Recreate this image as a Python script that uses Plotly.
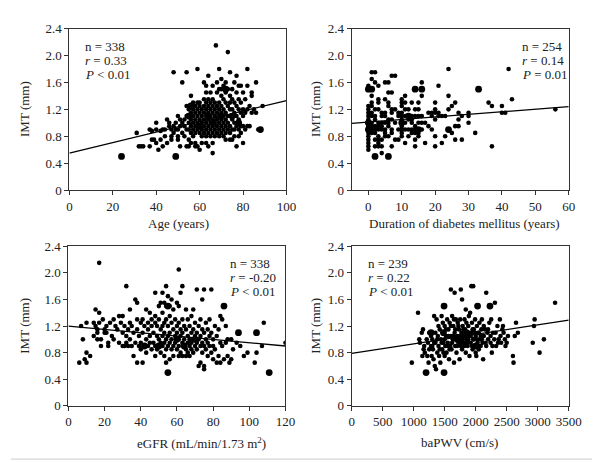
import plotly.graph_objects as go

# ---------------- data ----------------
# Panel 1: Age (years) vs IMT (mm)
age_imt = [(31,0.85),(32,0.65),(33,0.65),(34,0.65),(37,0.65),(37,0.9),(38,0.88),(38,0.75),(39,0.75),
 (40,1.0),(40,0.7),(40,0.9),(41,0.6),(42,0.88),(42,0.75),(43,0.9),(43,0.65),(44,0.9),(44,0.8),(45,0.7),
 (45,1.05),(46,0.95),(46,1.0),(47,0.8),(47,0.75),(47,0.9),(48,1.75),(48,0.95),(48,0.85),(49,1.0),(49,0.9),
 (50,1.1),(50,0.9),(50,0.8),(50,0.75),(51,0.65),(51,1.05),(51,0.95),(52,1.6),(52,0.85),(52,1.0),(53,1.05),
 (53,0.95),(53,0.8),(54,1.75),(54,1.25),(54,1.1),(54,0.9),(54,0.65),(55,1.2),(55,1.1),(55,1.0),(55,0.9),
 (55,0.75),(55,0.65),(56,1.4),(56,1.25),(56,1.15),(56,1.05),(56,0.95),(56,0.85),(56,0.7),(57,1.3),(57,1.2),
 (57,1.1),(57,1.0),(57,0.9),(57,0.8),(58,1.25),(58,1.15),(58,1.05),(58,0.95),(58,0.85),(58,0.7),(58,0.65),
 (59,1.8),(59,1.3),(59,1.2),(59,1.1),(59,1.0),(59,0.9),(59,0.65),(60,1.25),(60,1.15),(60,1.05),(60,0.95),
 (60,0.85),(60,0.6),(60,1.3),(61,1.2),(61,1.1),(61,1.0),(61,0.9),(61,0.8),(61,0.7),(62,1.6),(62,1.35),
 (62,1.25),(62,1.15),(62,1.05),(62,0.95),(62,0.85),(63,1.55),(63,1.45),(63,1.3),(63,1.2),(63,1.1),(63,1.0),
 (63,0.9),(63,0.8),(63,0.7),(64,1.7),(64,1.35),(64,1.25),(64,1.15),(64,1.05),(64,0.95),(64,0.85),(64,0.65),
 (65,1.45),(65,1.3),(65,1.2),(65,1.1),(65,1.0),(65,0.9),(65,0.8),(66,0.55),(66,1.55),(66,1.35),(66,1.25),
 (66,1.15),(66,1.05),(66,0.95),(66,0.85),(66,0.7),(67,1.3),(67,1.2),(67,1.1),(67,1.0),(67,0.9),(67,0.8),
 (67.5,2.15),(68,1.6),(68,1.45),(68,1.25),(68,1.15),(68,1.05),(68,0.95),(68,0.85),(69,1.8),(69,1.5),
 (69,1.3),(69,1.2),(69,1.1),(69,1.0),(69,0.9),(69,0.8),(70,1.65),(70,1.5),(70,1.4),(70,1.25),(70,1.15),
 (70,1.05),(70,0.95),(70,0.85),(71,1.55),(71,1.35),(71,1.2),(71,1.1),(71,1.0),(71,0.9),(71,0.8),(72,1.6),
 (72,1.45),(72,1.3),(72,1.15),(72,1.05),(72,0.95),(72,0.85),(72,0.75),(73,2.05),(73,1.5),(73,1.25),(73,1.1),
 (73,1.0),(73,0.9),(74,1.75),(74,1.4),(74,1.3),(74,1.2),(74,1.1),(74,0.95),(74,0.85),(74,0.75),(75,1.5),
 (75,1.35),(75,1.2),(75,1.05),(75,0.9),(75,0.75),(76,1.6),(76,1.3),(76,1.15),(76,1.0),(76,0.9),(76,0.8),
 (77,1.7),(77,1.45),(77,1.25),(77,1.1),(77,0.95),(77,0.65),(78,1.55),(78,1.35),(78,1.2),(78,1.05),(78,0.9),
 (78,0.8),(79,1.55),(79,1.3),(79,1.15),(79,0.95),(79,0.85),(80,1.45),(80,1.2),(80,1.1),(80,0.95),(80,0.7),
 (81,1.35),(81,1.15),(81,0.9),(82,1.8),(82,1.55),(82,1.2),(82,0.95),(83,1.25),(83,0.95),(84,1.45),(84,1.4),
 (84,1.15),(85,1.2),(86,1.6),(86,1.15),(87,0.9),(89,1.25)]
age_imt_big = [(24,0.5),(49,0.5),(88,0.9),(55,1.1),(56,1.25),(60,0.95),(64,1.1),(66,1.0),(70,1.1),
 (72,1.5),(75,1.1),(78,1.0)]
age_fit_x = [0, 100]
age_fit_y = [0.55, 1.33]

# Panel 2: Duration of diabetes mellitus (years) vs IMT (mm)
dur_imt = [(0,0.6),(0,0.65),(0,0.7),(0,0.75),(0,0.8),(0,0.85),(0,0.9),(0,0.95),(0,1.0),(0,1.05),(0,1.1),
 (0,1.15),(0,1.2),(0,1.25),(0,1.55),(1,1.75),(1,1.65),(1,1.4),(1,1.3),(1,1.25),(1,1.15),(1,1.1),(1,1.0),
 (1,0.9),(1,0.85),(1,0.95),(2,1.75),(2,1.6),(2,1.2),(2,1.1),(2,1.05),(2,0.95),(2,0.9),(2,0.85),(2,0.75),
 (2,0.65),(3,1.55),(3,1.35),(3,1.3),(3,1.2),(3,1.0),(3,0.9),(3,0.8),(3,0.75),(3,0.7),(3,0.65),(3,0.95),
 (4,1.15),(4,1.0),(4,0.95),(4,0.9),(4,0.75),(4,0.65),(4,0.55),(4,1.1),(5,1.6),(5,1.35),(5,1.15),(5,1.1),
 (5,1.0),(5,0.9),(5,0.85),(5,0.8),(6,1.6),(6,1.45),(6,1.3),(6,1.25),(6,1.05),(6,1.0),(6,0.95),(6,0.8),
 (7,1.7),(7,1.45),(7,1.2),(7,1.15),(7,1.05),(7,0.9),(7,0.85),(7,0.65),(8,1.7),(8,1.2),(8,1.0),(8,0.75),
 (9,1.15),(9,1.1),(9,0.9),(9,0.75),(10,1.35),(10,1.3),(10,1.25),(10,1.15),(10,1.1),(10,1.05),(10,0.95),
 (10,0.9),(10,0.85),(10,0.8),(11,1.4),(11,1.3),(11,1.2),(11,1.1),(11,1.0),(11,0.9),(11,0.7),(12,1.2),
 (12,1.1),(12,1.05),(12,0.9),(12,0.8),(13,1.3),(13,1.1),(13,1.05),(13,1.0),(13,0.9),(13,0.85),(14,1.2),
 (14,1.1),(14,0.95),(14,0.9),(14,0.85),(14,0.75),(14,0.65),(15,1.3),(15,1.2),(15,1.1),(15,1.0),(15,0.9),
 (15,0.85),(15,0.8),(16,1.6),(16,1.4),(16,1.1),(16,1.0),(16,0.9),(17,1.0),(17,0.7),(18,1.15),(18,0.95),
 (19,1.15),(19,1.1),(19,0.9),(20,1.3),(20,1.2),(20,1.15),(20,1.05),(20,0.8),(20,0.65),(21,1.55),(21,1.15),
 (21,1.1),(22,1.1),(22,0.7),(23,1.1),(23,0.8),(24,1.8),(24,1.4),(24,1.2),(25,1.25),(25,0.85),(26,1.3),
 (26,0.95),(26,0.75),(27,1.15),(27,1.05),(27,0.95),(28,1.1),(28,0.75),(30,1.15),(30,1.1),(30,1.0),
 (32,0.85),(36,1.3),(37,1.25),(37,0.65),(40,1.25),(40,1.15),(41,1.15),(42,1.8),(43,1.35),(56,1.2)]
dur_imt_big = [(2,0.5),(6,0.5),(0,1.5),(1,1.5),(14,1.5),(16,1.5),(24,0.9),(33,1.5),(0,0.9),(0,1.0),
 (10,1.0),(12,1.1),(15,0.9)]
dur_fit_x = [-5, 60]
dur_fit_y = [0.99, 1.24]

# Panel 3: eGFR (mL/min/1.73 m2) vs IMT (mm)
egfr_imt = [(6,0.65),(8,1.0),(7,1.2),(9,0.7),(10,0.8),(10,0.65),(10,1.25),(12,0.75),(14,1.25),(14,1.05),
 (15,1.45),(15,1.2),(16,1.15),(16,1.1),(16,1.0),(17,2.15),(17,1.4),(17,1.25),(18,1.0),(18,0.9),(19,1.3),
 (20,1.15),(20,1.1),(21,1.2),(21,1.1),(22,0.9),(22,0.95),(23,1.25),(24,1.05),(25,1.3),(25,1.0),(26,1.2),
 (27,1.15),(28,0.95),(28,1.35),(29,1.25),(30,1.35),(30,0.9),(30,1.1),(31,0.9),(31,1.2),(32,1.8),(32,1.05),
 (32,0.95),(33,1.15),(33,0.9),(34,1.45),(34,1.25),(34,1.0),(35,0.9),(35,1.2),(36,0.75),(36,1.1),(37,1.6),
 (37,0.95),(38,1.55),(38,1.3),(38,0.65),(38,1.15),(39,0.9),(39,1.05),(40,1.25),(40,0.95),(40,0.85),
 (41,1.3),(41,1.1),(41,0.65),(42,1.2),(42,0.9),(43,1.45),(43,1.0),(43,0.8),(44,1.25),(44,0.9),(44,1.15),
 (45,1.4),(45,1.05),(45,0.95),(46,1.3),(46,0.85),(46,1.2),(47,1.1),(47,0.95),(48,1.7),(48,1.35),(48,1.25),
 (48,0.9),(48,0.75),(49,1.2),(49,1.05),(49,0.85),(50,1.5),(50,1.3),(50,1.0),(50,0.9),(51,1.55),(51,1.15),
 (51,0.95),(51,0.8),(52,1.7),(52,1.4),(52,1.2),(52,1.05),(52,0.9),(53,1.55),(53,1.25),(53,1.1),(53,0.95),
 (53,0.75),(54,1.8),(54,1.5),(54,1.3),(54,1.0),(54,0.85),(54,0.65),(55,1.65),(55,1.5),(55,1.2),(55,1.05),
 (55,0.9),(56,1.5),(56,1.35),(56,1.1),(56,0.95),(56,0.7),(57,1.6),(57,1.25),(57,1.0),(57,0.85),(58,1.45),
 (58,1.15),(58,0.9),(58,0.75),(59,1.3),(59,1.05),(59,0.95),(60,1.55),(60,1.2),(60,1.1),(60,0.85),
 (61,2.05),(61,1.5),(61,1.25),(61,1.0),(61,0.9),(61,0.75),(62,1.7),(62,1.15),(62,1.05),(62,0.8),(63,1.8),
 (63,1.3),(63,1.1),(63,0.95),(63,0.75),(64,1.2),(64,1.0),(64,0.9),(65,1.45),(65,1.15),(65,0.85),(65,0.75),
 (66,1.3),(66,1.05),(66,0.95),(66,0.8),(67,1.2),(67,1.0),(67,0.9),(67,0.75),(68,1.35),(68,1.1),(68,0.95),
 (68,0.85),(69,1.45),(69,1.15),(69,1.0),(69,0.8),(70,1.25),(70,1.05),(70,0.9),(71,1.75),(71,1.1),(71,0.95),
 (71,0.85),(72,1.2),(72,1.0),(72,0.6),(73,1.3),(73,1.05),(73,0.9),(73,0.65),(74,1.6),(74,1.15),(74,0.95),
 (74,0.8),(75,1.75),(75,1.1),(75,0.9),(75,0.6),(75,0.55),(76,1.25),(76,1.0),(76,0.85),(77,1.15),(77,0.95),
 (77,0.75),(78,1.3),(78,1.05),(78,0.9),(79,1.75),(79,1.1),(79,0.8),(80,1.0),(80,0.9),(80,0.7),(81,1.2),
 (81,0.85),(82,1.05),(82,0.65),(83,1.15),(83,0.75),(84,1.35),(84,0.95),(84,0.65),(85,1.3),(85,0.9),
 (86,0.7),(87,1.2),(87,0.95),(88,1.0),(88,0.75),(89,0.65),(90,1.0),(90,0.7),(91,0.85),(93,0.95),(95,0.9),
 (97,0.75),(99,0.8),(103,0.65),(104,0.8),(107,0.9),(108,1.25),(120,0.95)]
egfr_imt_big = [(55,0.5),(111,0.5),(86,1.5),(94,1.1),(104,1.1),(55,1.5),(50,0.9),(64,0.9),(70,1.0),
 (42,0.9),(60,1.0)]
egfr_fit_x = [0, 120]
egfr_fit_y = [1.2, 0.9]

# Panel 4: baPWV (cm/s) vs IMT (mm)
pwv_imt = [(970,0.65),(1070,1.4),(1090,1.0),(1100,0.95),(1130,1.1),(1140,0.75),(1150,1.15),(1160,0.85),
 (1170,0.9),(1180,0.8),(1210,1.0),(1220,0.75),(1230,0.95),(1240,0.65),(1250,0.85),(1270,1.1),(1280,0.9),
 (1290,0.75),(1300,1.0),(1310,0.85),(1320,0.7),(1330,1.35),(1340,0.6),(1350,0.95),(1360,0.55),(1370,1.3),
 (1380,0.8),(1390,1.05),(1400,0.9),(1410,0.75),(1420,1.15),(1430,0.65),(1440,1.0),(1450,1.35),(1460,0.85),
 (1470,1.1),(1480,0.95),(1500,0.75),(1500,1.2),(1510,0.9),(1520,1.05),(1530,0.8),(1540,1.3),(1550,0.95),
 (1560,1.15),(1570,0.7),(1580,1.25),(1590,0.9),(1600,1.75),(1600,1.05),(1610,0.85),(1620,1.35),(1630,1.0),
 (1640,1.2),(1650,0.65),(1660,1.7),(1660,1.1),(1670,0.9),(1680,1.3),(1690,0.8),(1700,1.05),(1710,1.25),
 (1720,0.95),(1730,1.15),(1740,0.7),(1750,1.0),(1760,1.75),(1760,0.9),(1770,1.1),(1780,1.6),(1780,0.85),
 (1790,1.2),(1800,1.05),(1810,0.95),(1820,1.3),(1830,1.15),(1840,1.45),(1840,0.8),(1850,1.0),(1860,1.1),
 (1870,0.9),(1880,1.2),(1890,1.05),(1900,0.75),(1910,1.4),(1920,0.95),(1930,1.8),(1930,1.1),(1940,1.25),
 (1950,0.85),(1960,1.8),(1960,1.0),(1970,1.15),(1980,0.9),(1990,1.3),(2000,1.05),(2010,0.75),(2020,1.2),
 (2030,0.95),(2040,1.1),(2050,0.85),(2060,1.25),(2070,1.0),(2080,0.9),(2090,1.15),(2100,1.3),(2110,0.95),
 (2120,0.7),(2130,1.05),(2150,1.15),(2170,1.7),(2170,0.9),(2190,1.1),(2200,1.0),(2220,1.25),(2240,0.95),
 (2250,1.3),(2260,0.8),(2280,1.1),(2300,1.0),(2310,1.55),(2330,0.9),(2350,1.2),(2370,1.0),(2390,1.3),
 (2410,0.95),(2430,1.15),(2450,1.1),(2470,1.0),(2500,0.95),(2520,1.05),(2600,0.75),(2610,0.65),(2630,1.05),
 (2650,1.25),(2680,1.1),(2920,0.95),(2940,1.2),(2950,1.3),(3030,0.8),(3100,1.0),(3280,1.55),
 (1250,1.1),(1280,1.05),(1300,0.9),(1330,0.95),(1350,1.1),(1380,1.0),(1400,1.2),(1420,0.85),(1450,0.95),
 (1470,1.25),(1480,0.8),(1500,1.0),(1520,1.15),(1540,0.9),(1560,1.05),(1580,0.85),(1600,1.2),(1620,0.95),
 (1640,1.05),(1650,1.3),(1670,1.15),(1690,1.0),(1700,0.9),(1720,1.2),(1740,1.05),(1750,1.3),(1770,0.95),
 (1790,1.0),(1800,1.15),(1820,0.9),(1830,1.05),(1850,1.25),(1860,0.95),(1880,1.0),(1890,1.35),(1900,1.1),
 (1920,1.05),(1940,0.9),(1950,1.15),(1970,1.0),(1990,1.1),(2000,0.8),(2020,1.0),(2050,1.1),(2060,0.9),
 (2080,1.05),(2100,1.0),(2130,1.2),(2160,0.95),(2200,1.15),(2240,1.05),(2270,0.9),(2320,1.1),(2360,0.95),
 (2400,1.05),(2440,1.2),(2480,0.9)]
pwv_imt_big = [(1200,0.5),(1490,0.5),(1490,1.5),(2030,1.5),(2230,1.5),(1280,1.1),(1480,1.1),(1700,1.0),
 (1850,1.1),(2000,0.9)]
pwv_fit_x = [0, 3500]
pwv_fit_y = [0.79, 1.29]

y_tick_vals = [0, 0.4, 0.8, 1.2, 1.6, 2.0, 2.4]
y_tick_text = ["0", "0.4", "0.8", "1.2", "1.6", "2.0", "2.4"]

panels = [
    dict(pts=age_imt, big=age_imt_big, fx=age_fit_x, fy=age_fit_y, xr=[0, 100],
         xt=[0, 20, 40, 60, 80, 100], xlabel="Age (years)",
         stats=["n = 338", "<i>r</i> = 0.33", "<i>P</i> < 0.01"]),
    dict(pts=dur_imt, big=dur_imt_big, fx=dur_fit_x, fy=dur_fit_y, xr=[-5, 60],
         xt=[0, 10, 20, 30, 40, 50, 60], xlabel="Duration of diabetes mellitus (years)",
         stats=["n = 254", "<i>r</i> = 0.14", "<i>P</i> = 0.01"]),
    dict(pts=egfr_imt, big=egfr_imt_big, fx=egfr_fit_x, fy=egfr_fit_y, xr=[0, 120],
         xt=[0, 20, 40, 60, 80, 100, 120], xlabel="eGFR (mL/min/1.73 m<sup>2</sup>)",
         stats=["n = 338", "<i>r</i> = -0.20", "<i>P</i> < 0.01"]),
    dict(pts=pwv_imt, big=pwv_imt_big, fx=pwv_fit_x, fy=pwv_fit_y, xr=[0, 3500],
         xt=[0, 500, 1000, 1500, 2000, 2500, 3000, 3500], xlabel="baPWV (cm/s)",
         stats=["n = 239", "<i>r</i> = 0.22", "<i>P</i> < 0.01"]),
]

# ---------------- layout geometry (pixels) ----------------
W, H = 600, 462
FONT = "Liberation Serif"
# (x0, x1, y_bottom, y_top) in pixels
boxes = [(60, 283, 181, 14), (350, 573, 181, 14), (59, 282, 404, 239), (350, 573, 404, 239)]
stat_pos = [(74, 33), (523, 33), (223, 257), (365, 257)]
xlabel_pos = [(172, 215), (466, 215), (196, 442), (461, 442)]
ylabel_x = [14, 313, 13, 312]

fig = go.Figure()
annotations = []
for i, p in enumerate(panels):
    k = "" if i == 0 else str(i + 1)
    xa, ya = "x" + k, "y" + k
    px, py = [a for a, b in p["pts"]], [b for a, b in p["pts"]]
    bx, by = [a for a, b in p["big"]], [b for a, b in p["big"]]
    fig.add_trace(go.Scatter(x=px, y=py, mode="markers", xaxis=xa, yaxis=ya,
                             marker=dict(size=4.6, color="black"), showlegend=False))
    fig.add_trace(go.Scatter(x=bx, y=by, mode="markers", xaxis=xa, yaxis=ya,
                             marker=dict(size=6.8, color="black"), showlegend=False))
    fig.add_trace(go.Scatter(x=p["fx"], y=p["fy"], mode="lines", xaxis=xa, yaxis=ya,
                             line=dict(color="black", width=1.3), showlegend=False))
    x0, x1, yb, yt = boxes[i]
    axis_common = dict(showline=True, mirror=True, linecolor="#333", linewidth=1,
                       ticks="outside", ticklen=4, tickcolor="#333", showgrid=False,
                       zeroline=False, tickfont=dict(family=FONT, size=13, color="#222"))
    fig.update_layout(**{
        "xaxis" + k: dict(domain=[x0 / W, x1 / W], range=p["xr"], tickvals=p["xt"],
                          anchor=ya, **axis_common),
        "yaxis" + k: dict(domain=[1 - yb / H, 1 - yt / H], range=[0, 2.4],
                          tickvals=y_tick_vals, ticktext=y_tick_text, anchor=xa, **axis_common),
    })
    sx, sy = stat_pos[i]
    for j, s in enumerate(p["stats"]):
        annotations.append(dict(text=s, x=sx / W, y=1 - (sy + j * 14.5) / H, xref="paper",
                                yref="paper", xanchor="left", yanchor="middle", showarrow=False,
                                font=dict(family=FONT, size=13, color="#222")))
    lx, ly = xlabel_pos[i]
    annotations.append(dict(text=p["xlabel"], x=lx / W, y=1 - ly / H, xref="paper", yref="paper",
                            xanchor="center", yanchor="middle", showarrow=False,
                            font=dict(family=FONT, size=13, color="#222")))
    annotations.append(dict(text="IMT (mm)", x=ylabel_x[i] / W, y=1 - ((yb + yt) / 2) / H,
                            xref="paper", yref="paper", xanchor="center", yanchor="middle",
                            textangle=-90, showarrow=False,
                            font=dict(family=FONT, size=13, color="#222")))

fig.update_layout(width=W, height=H, margin=dict(l=0, r=0, t=0, b=0),
                  paper_bgcolor="white", plot_bgcolor="white", annotations=annotations,
                  shapes=[dict(type="line", xref="paper", yref="paper", x0=0, x1=1,
                               y0=1 - 459 / H, y1=1 - 459 / H, line=dict(color="#ccc", width=1))])
fig.write_html("out.html")
